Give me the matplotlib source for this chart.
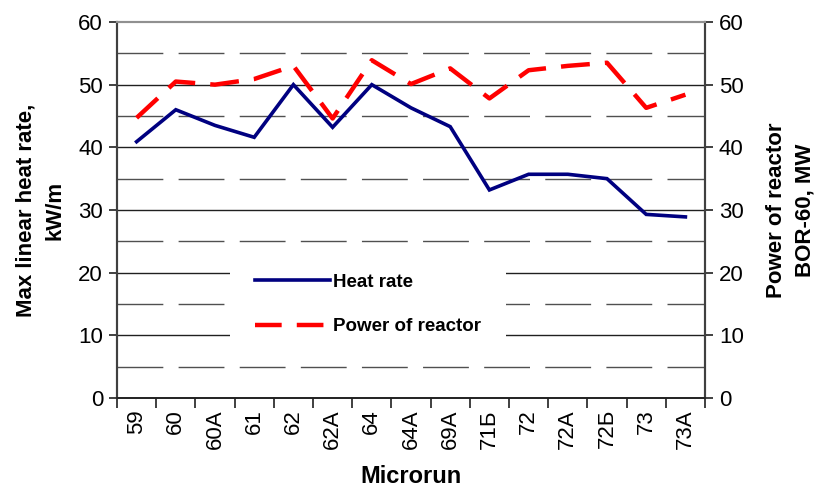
import matplotlib
matplotlib.use("Agg")
import matplotlib.pyplot as plt
import numpy as np
from matplotlib.lines import Line2D

categories = ["59", "60", "60A", "61", "62", "62A", "64", "64A", "69A",
              "71Б", "72", "72A", "72Б", "73", "73A"]
heat_rate = [40.9, 46.0, 43.5, 41.6, 50.0, 43.2, 50.0, 46.3, 43.3,
             33.2, 35.7, 35.7, 35.0, 29.3, 28.9]
power = [44.7, 50.5, 50.0, 50.9, 53.0, 44.6, 53.9, 50.1, 52.6,
         47.8, 52.3, 53.0, 53.5, 46.3, 48.4]
y_ticks = [0, 10, 20, 30, 40, 50, 60]

plt.rcParams['font.family'] = ['Liberation Sans', 'DejaVu Sans']

fig = plt.figure(figsize=(8.15, 4.95), dpi=100)
ax1 = fig.add_axes([117/815, 1-398/495, (705-117)/815, (398-22)/495])
ax2 = ax1.twinx()

x = np.arange(len(categories))

# gridlines
for v in np.arange(5, 60, 10):
    ax1.axhline(v, color='#505050', lw=1.0, linestyle=(0, (33, 11)), zorder=0)
for v in y_ticks[1:-1]:
    ax1.axhline(v, color='#202020', lw=1.0, zorder=0)

ax1.plot(x, heat_rate, color='#000080', lw=2.6, zorder=3, solid_joinstyle='miter')
ax2.plot(x, power, color='#FF0000', lw=3.2, linestyle=(0, (6.5, 3.4)), zorder=3)

for ax in (ax1, ax2):
    ax.set_ylim(0, 60)
    ax.set_yticks(y_ticks)
    ax.set_xlim(-0.5, len(categories) - 0.5)

ax1.set_xticks(x)
ax1.set_xticklabels(categories, rotation=90, fontsize=16)
ax1.set_xticks(np.arange(-0.5, len(categories), 1.0), minor=True)
ax1.tick_params(axis='x', which='major', length=0, pad=8)
ax1.tick_params(axis='x', which='minor', length=7, width=1.2, direction='out', color='#202020')
ax1.tick_params(axis='y', labelsize=16, length=6, width=1.2, direction='out', color='#202020', pad=4)
ax2.tick_params(axis='y', labelsize=16, length=6, width=1.2, direction='out', color='#202020', pad=4)

for ax in (ax1, ax2):
    for s in ('left', 'right'):
        ax.spines[s].set_color('#404040')
        ax.spines[s].set_linewidth(1.5)
    ax.spines['top'].set_color('#909090')
    ax.spines['top'].set_linewidth(1.5)
    ax.spines['bottom'].set_color('#202020')
    ax.spines['bottom'].set_linewidth(1.2)

ax1.set_xlabel("Microrun", fontsize=17, fontweight='bold', labelpad=12)
ax1.set_ylabel("Max linear heat rate,\nkW/m", fontsize=16, fontweight='bold',
               labelpad=9, linespacing=1.5)
ax2.set_ylabel("Power of reactor\nBOR-60, MW", fontsize=16, fontweight='bold',
               labelpad=16, linespacing=1.5)

handles = [Line2D([], [], color='#000080', lw=2.6),
           Line2D([], [], color='#FF0000', lw=3.2, linestyle=(0, (6, 3.4)))]
leg = ax2.legend(handles, ["Heat rate", "Power of reactor"],
                 loc='center', bbox_to_anchor=(368/815, 1-304.5/495),
                 bbox_transform=fig.transFigure,
                 prop={'weight': 'bold', 'size': 13.5},
                 handlelength=4.0, handletextpad=0.2, labelspacing=1.45,
                 borderpad=1.3, frameon=True, fancybox=False)
leg.get_frame().set_facecolor('white')
leg.get_frame().set_edgecolor('none')
leg.get_frame().set_alpha(1)

fig.savefig("out.png", dpi=100)
